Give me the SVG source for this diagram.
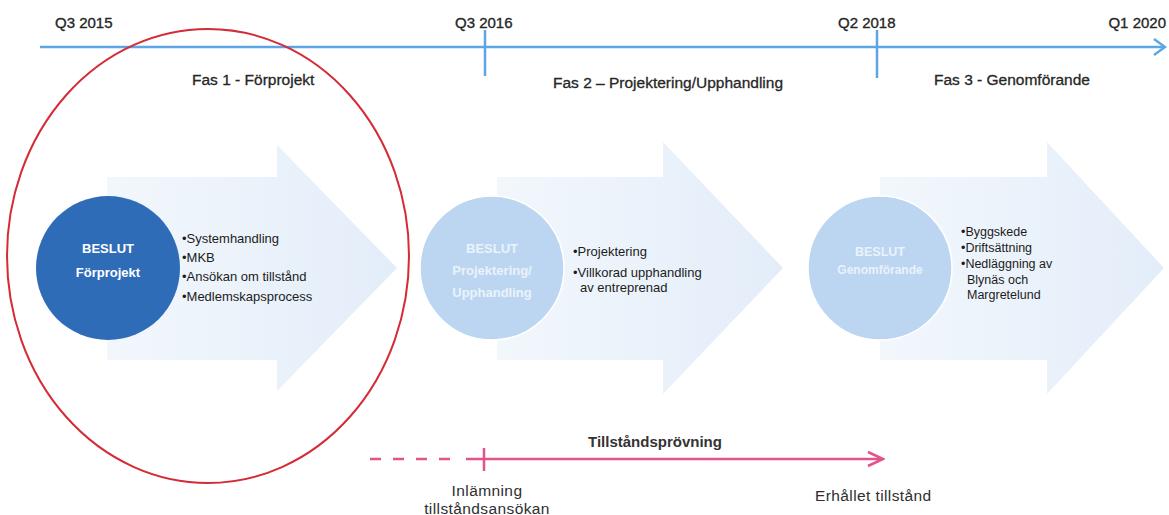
<svg xmlns="http://www.w3.org/2000/svg" width="1169" height="515" viewBox="0 0 1169 515">
<defs>
<style>
text{font-family:"Liberation Sans",Arial,sans-serif;fill:#262626}
.q{font-size:15px;stroke:#262626;stroke-width:0.35}
.fas{font-size:15.5px;stroke:#262626;stroke-width:0.3}
.ctw{font-size:13px;font-weight:bold;fill:#ffffff;text-anchor:middle}
.ctl{font-size:13px;font-weight:bold;fill:#eaf2fb;text-anchor:middle}
.bl{font-size:13px;fill:#1c1c1c}
.bs{font-size:12.5px;fill:#1c1c1c}
.bot{font-size:15.5px;fill:#2e2e2e;letter-spacing:0.4px}
.arrow{fill:url(#ag)}
.tl{stroke:#5ea6e3;stroke-width:2.5;fill:none}
.pk{stroke:#e2528c;stroke-width:2.5;fill:none}
</style>
<linearGradient id="ag" x1="0" y1="0" x2="1" y2="0">
<stop offset="0" stop-color="#f2f7fc"/>
<stop offset="1" stop-color="#e3edf9"/>
</linearGradient>
<marker id="mb" viewBox="0 0 14 18" refX="12" refY="9" markerWidth="14" markerHeight="18" markerUnits="userSpaceOnUse" orient="auto">
<path d="M1,1 L12,9 L1,17" fill="none" stroke="#5ea6e3" stroke-width="2.5"/>
</marker>
<marker id="mp" viewBox="0 0 18 18" refX="16" refY="9" markerWidth="18" markerHeight="18" markerUnits="userSpaceOnUse" orient="auto">
<path d="M1,2 L16,9 L1,16" fill="none" stroke="#e2528c" stroke-width="2.5"/>
</marker>
</defs>
<rect width="1169" height="515" fill="#ffffff"/>

<g id="phase1-arrow"><polygon class="arrow" points="107,177 277,177 277,145 397,268 277,391 277,360 107,360"/></g>
<g id="phase2-arrow"><polygon class="arrow" points="497,177 663,177 663,142 783,268 663,394 663,360 497,360"/></g>
<g id="phase3-arrow"><polygon class="arrow" points="880,177 1047,177 1047,142 1164,268 1047,394 1047,360 880,360"/></g>

<g id="connectors">
<line class="tl" x1="40" y1="47" x2="1165" y2="47" marker-end="url(#mb)"/>
<line class="tl" x1="485" y1="30" x2="485" y2="76" stroke-width="2"/>
<line class="tl" x1="877" y1="30" x2="877" y2="78" stroke-width="2"/>
<line class="pk" x1="370" y1="459" x2="456" y2="459" stroke-dasharray="11 12"/>
<line class="pk" x1="466" y1="459" x2="883" y2="459" marker-end="url(#mp)"/>
<line class="pk" x1="484" y1="448" x2="484" y2="471" stroke-width="2"/>
</g>

<g id="timeline-labels">
<text class="q" x="55" y="28">Q3 2015</text>
<text class="q" x="455" y="28">Q3 2016</text>
<text class="q" x="838" y="28">Q2 2018</text>
<text class="q" x="1166" y="28" text-anchor="end">Q1 2020</text>
<text class="fas" x="192" y="85">Fas 1 - Förprojekt</text>
<text class="fas" x="553" y="88">Fas 2 – Projektering/Upphandling</text>
<text class="fas" x="934" y="85">Fas 3 - Genomförande</text>
</g>

<g id="phase1">
<circle cx="108" cy="268" r="72" fill="#2f6cb8"/>
<text class="ctw" x="108" y="253">BESLUT</text>
<text class="ctw" x="108" y="277">Förprojekt</text>
<text class="bl" x="182" y="243">•Systemhandling</text>
<text class="bl" x="182" y="262">•MKB</text>
<text class="bl" x="182" y="281">•Ansökan om tillstånd</text>
<text class="bl" x="182" y="301">•Medlemskapsprocess</text>
</g>

<g id="phase2">
<circle cx="492" cy="268" r="72" fill="#bcd6f1" stroke="#ffffff" stroke-width="1.5"/>
<text class="ctl" x="492" y="253">BESLUT</text>
<text class="ctl" x="492" y="275">Projektering/</text>
<text class="ctl" x="492" y="297">Upphandling</text>
<text class="bl" x="573" y="256">•Projektering</text>
<text class="bl" x="573" y="277">•Villkorad upphandling</text>
<text class="bl" x="580" y="292">av entreprenad</text>
</g>

<g id="phase3">
<circle cx="880" cy="268" r="72" fill="#bcd6f1" stroke="#ffffff" stroke-width="1.5"/>
<text class="ctl" x="880" y="256" style="font-size:12.5px">BESLUT</text>
<text class="ctl" x="880" y="274" style="font-size:12px">Genomförande</text>
<text class="bs" x="961" y="236">•Byggskede</text>
<text class="bs" x="961" y="252">•Driftsättning</text>
<text class="bs" x="961" y="268">•Nedläggning av</text>
<text class="bs" x="967" y="284">Blynäs och</text>
<text class="bs" x="967" y="299">Margretelund</text>
</g>

<g id="red-highlight">
<ellipse cx="208" cy="256" rx="201" ry="227" fill="none" stroke="#d42c36" stroke-width="2"/>
</g>

<g id="permit-labels">
<text x="588" y="447" style="font-size:15px;font-weight:bold;fill:#333">Tillståndsprövning</text>
<text class="bot" x="487" y="496" text-anchor="middle">Inlämning</text>
<text class="bot" x="487" y="514" text-anchor="middle">tillståndsansökan</text>
<text class="bot" x="815" y="501">Erhållet tillstånd</text>
</g>
</svg>
